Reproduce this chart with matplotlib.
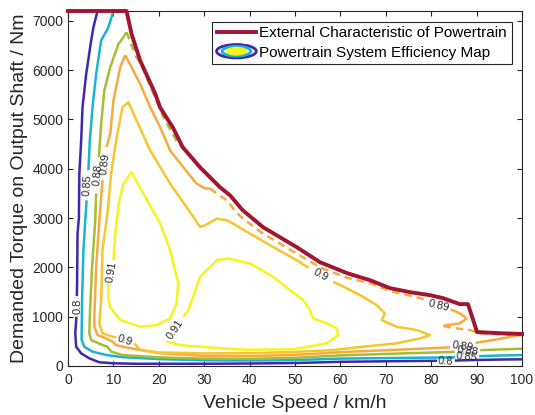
import numpy as np
import matplotlib.pyplot as plt
from matplotlib.patches import Ellipse
from matplotlib.lines import Line2D
from matplotlib.legend_handler import HandlerBase

plt.rcParams['font.family'] = ['Liberation Sans', 'DejaVu Sans']

# external characteristic (speed km/h, torque Nm)
ext_speed = [0, 12.9, 14.0, 15.9, 17.6, 19.2, 20.3, 23.1, 25.3, 29.1, 33.5, 35.7, 38.5, 43.0,
             50.4, 55.5, 61.5, 66.5, 70.9, 75.3, 79.7, 82.6, 86.3, 88.1, 90.1, 94.5, 100]
ext_torque = [7200, 7200, 6734, 6193, 5849, 5525, 5242, 4837, 4433, 4028, 3623, 3461, 3157, 2813,
              2409, 2105, 1882, 1741, 1579, 1498, 1437, 1376, 1255, 1255, 688, 668, 648]

# efficiency contour lines, one list of (speed, torque) pieces per level
eff_080 = [
    ([6.5, 5.6, 5.1, 4.0, 3.2, 2.9, 2.5, 2.4, 2.1, 2.0, 1.95],
     [7200, 6870, 6600, 5920, 5250, 4570, 3900, 3000, 2690, 1680, 1420]),
    ([1.85, 1.6, 1.8, 2.9, 4.7, 6.9, 10, 15, 20, 30, 40, 50, 60, 70, 80, 81.3],
     [1000, 660, 390, 256, 155, 75, 55, 45, 45, 45, 50, 60, 85, 95, 105, 106]),
    ([85.2, 90, 95, 100], [110, 122, 130, 135]),
]
eff_085 = [
    ([10.0, 8.9, 7.3, 6.2, 5.4, 4.8, 4.5], [7200, 6870, 6600, 5920, 5250, 4570, 3970]),
    ([4.1, 3.8, 3.4, 3.1, 3.0, 3.6, 5.4, 8.4, 12, 20, 30, 40, 50, 60, 70, 80, 85.3],
     [3360, 2950, 2350, 1340, 530, 390, 290, 223, 180, 140, 115, 110, 120, 150, 160, 170, 176]),
    ([90.5, 95, 100], [200, 212, 222]),
]
eff_088 = [
    ([12.9, 11.7, 11.1, 9.3, 8.0, 7.3, 6.8], [6770, 6600, 6530, 6060, 5590, 4910, 4240]),
    ([6.2, 6.0, 5.3, 4.8, 4.7, 5.1, 7.6, 8.7, 9.5, 12, 20, 30, 40, 50, 60, 70, 80, 85.2],
     [3500, 2950, 2010, 1000, 660, 526, 425, 391, 290, 223, 175, 150, 145, 165, 215, 245, 272, 285]),
    ([90.8, 95, 100], [320, 335, 350]),
]
eff_088_dashed = [
    ([12.9, 15.1, 15.9, 17.6, 19.5, 21.0, 23.9, 25.4], [6770, 6260, 6160, 5790, 5380, 5050, 4570, 4400]),
]
eff_089 = [
    ([12.6, 14.0, 15.9, 18.1, 20.3, 22.5, 25.4, 28.3, 30.2, 31.3],
     [6300, 6060, 5720, 5250, 4840, 4370, 4030, 3700, 3600, 3600]),
    ([12.6, 11.5, 10.0, 9.3, 8.5], [6300, 6060, 5380, 4710, 4440]),
    ([7.6, 6.9, 6.2, 5.8, 5.8, 6.5, 8.4, 9.8, 10.6, 12.0, 15, 20, 30, 40, 50, 60, 70, 80, 84.2],
     [3770, 2950, 2010, 1000, 800, 627, 560, 492, 425, 391, 340, 260, 205, 200, 225, 280, 320, 360, 378]),
    ([89.8, 94.5, 100], [470, 540, 635]),
    ([84.3, 86.3, 87.8, 86.3, 83.4, 82.7], [1150, 1067, 965, 864, 830, 810]),
]
eff_089_dashed = [
    ([31.3, 32.8, 35.0, 37.2, 39.4, 43.0, 46.7, 48.9, 55.5, 61.4, 66.5, 70.9, 75.3, 79.0],
     [3600, 3495, 3360, 3100, 2930, 2680, 2480, 2360, 2000, 1790, 1680, 1520, 1430, 1340]),
    ([82.7, 85.6, 88.5, 90.7, 95, 100], [810, 763, 729, 662, 640, 625]),
]
eff_090 = [
    ([14.6, 15.9, 20, 30, 40, 50, 58, 65, 72.4, 77.5, 79.7, 76.8, 72.4, 69.1, 69.8, 68.0, 65.0, 60, 58.4],
     [459, 324, 275, 255, 260, 285, 320, 391, 459, 560, 627, 729, 796, 931, 1067, 1235, 1403, 1640, 1706]),
    ([53.0, 50.4, 44.5, 40.1, 35.7, 35.0, 32.8, 30.2, 29.1, 26.1, 22.5, 18.1, 13.3, 12.0, 10.6, 9.5,
      8.7, 7.6, 7.3, 6.9, 7.6, 9.8, 10.6],
     [1990, 2145, 2449, 2686, 2921, 2955, 2989, 2854, 2820, 3224, 3698, 4372, 5349, 5248, 4574, 3900,
      3100, 2350, 1340, 864, 662, 594, 580]),
]
eff_091 = [
    ([10.0, 10.4, 11.2, 12.2, 14.0, 16.6, 20.3, 22.5, 24.3, 23.9, 22.5, 19.5, 15.9, 11.5, 9.25, 8.9, 8.9],
     [2145, 2690, 3300, 3700, 3930, 3495, 2890, 2350, 1675, 1270, 965, 830, 796, 931, 1200, 1400, 1674]),
    ([21.7, 24.7, 29.1, 33.5, 39.4, 49.6, 57.0, 59.5, 59.2, 57.0, 54.0, 53.3, 51.8, 48.9, 45.2, 40.1,
      35.3, 32.8, 29.1, 26.5, 25.4],
     [492, 425, 391, 358, 330, 338, 459, 627, 763, 864, 965, 1133, 1336, 1538, 1808, 2079,
      2180, 2146, 1808, 1133, 998]),
]

# contour labels
label_text = ['0.8', '0.85', '0.88', '0.89', '0.91', '0.91', '0.9', '0.9', '0.89',
              '0.89', '0.88', '0.85', '0.8']
label_speed = [2.1, 4.3, 6.5, 8.1, 9.5, 23.5, 12.6, 55.7, 81.7, 86.9, 88.0, 87.9, 83.2]
label_torque = [1210, 3665, 3870, 4105, 1910, 745, 520, 1850, 1230, 395, 310, 180, 90]
label_rot = [90, 86, 84, 83, 80, 56, -18, -28, -14, -8, -6, -5, -3]

colors = ['#3d28b0', '#1ab4d0', '#a4be30', '#f7aa3d', '#f6c72c', '#f7f41c']
red = '#a2142f'
txt = '#262626'


class HandlerEllipse(HandlerBase):
    def create_artists(self, legend, orig_handle, xdescent, ydescent,
                       width, height, fontsize, trans):
        cx = 0.5 * width - xdescent
        cy = 0.5 * height - ydescent
        out = []
        for s, c, fill in [(1.0, colors[0], False), (0.72, colors[1], False),
                           (0.45, colors[5], True)]:
            e = Ellipse((cx, cy), width * s, height * 1.25 * s, facecolor=c if fill else 'none',
                        edgecolor=c, lw=2, transform=trans)
            out.append(e)
        return out


fig = plt.figure(figsize=(5.35, 4.15), dpi=100)
ax = fig.add_axes([0.1271, 0.1181, 0.8486, 0.8554])

for segs, col in zip([eff_080, eff_085, eff_088, eff_089, eff_090, eff_091], colors):
    for v, t in segs:
        ax.plot(v, t, color=col, lw=1.8, solid_capstyle='butt', solid_joinstyle='round')
for segs, col in [(eff_088_dashed, colors[2]), (eff_089_dashed, colors[3])]:
    for v, t in segs:
        ax.plot(v, t, color=col, lw=1.8, ls=(0, (3, 2)))

ax.plot(ext_speed, ext_torque, color=red, lw=2.8, zorder=5, clip_on=False)

for s, x, y, r in zip(label_text, label_speed, label_torque, label_rot):
    ax.text(x, y, s, rotation=r, ha='center', va='center', fontsize=8, color=txt,
            rotation_mode='anchor', zorder=6)

ax.set_xlim(0, 100)
ax.set_ylim(0, 7200)
ax.set_xticks(np.arange(0, 101, 10))
ax.set_yticks(np.arange(0, 7001, 1000))
ax.tick_params(direction='in', top=True, right=True, labelsize=10, colors=txt, length=3.5)
ax.tick_params(axis='x', pad=5)
for sp in ax.spines.values():
    sp.set_color(txt)
    sp.set_linewidth(0.8)
ax.set_xlabel('Vehicle Speed / km/h', fontsize=14, color=txt, labelpad=6)
ax.set_ylabel('Demanded Torque on Output Shaft / Nm', fontsize=14, color=txt, labelpad=3)

h1 = Line2D([], [], color=red, lw=2.8)
h2 = Ellipse((0, 0), 1, 1)
leg = ax.legend([h1, h2], ['External Characteristic of Powertrain', 'Powertrain System Efficiency Map'],
                handler_map={Ellipse: HandlerEllipse()}, loc='upper right',
                bbox_to_anchor=(0.977, 0.97), borderaxespad=0, fontsize=11, fancybox=False,
                edgecolor=txt, framealpha=1, handlelength=2.6, handletextpad=0.2,
                labelspacing=0.35, borderpad=0.3)
leg.get_frame().set_linewidth(0.8)
leg.set_zorder(10)

plt.savefig('out.png', dpi=100)
